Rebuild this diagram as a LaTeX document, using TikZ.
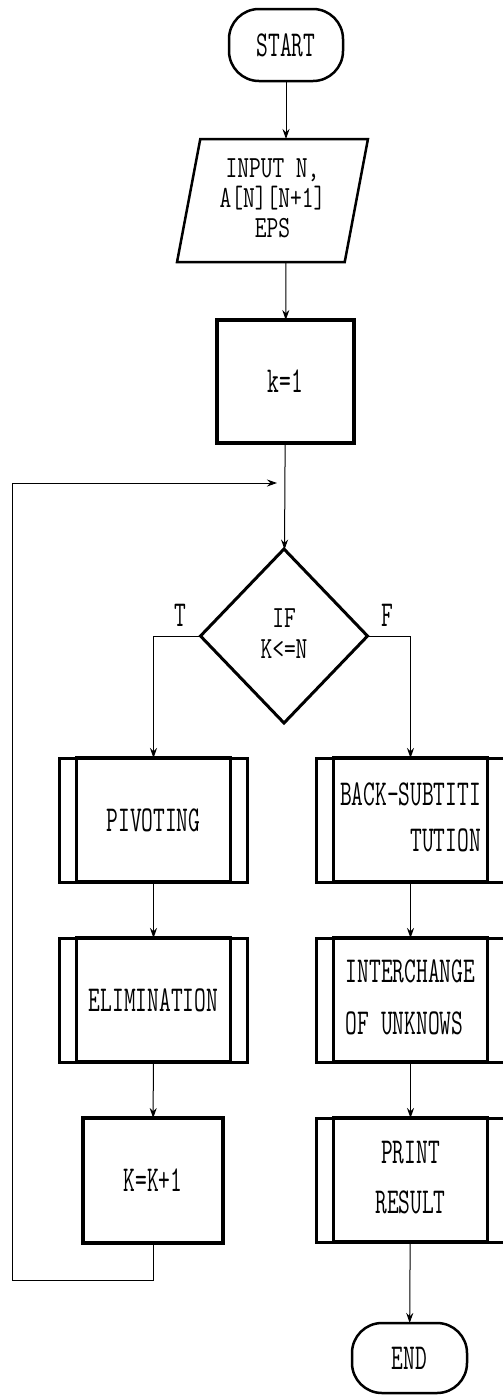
\documentclass[tikz,border=0pt]{standalone}
\usepackage{graphicx}
\usepackage{fontspec}
\usetikzlibrary{shapes.geometric,arrows.meta}
\newcommand{\T}[1]{\scalebox{1}[1.6]{#1}}
\newcommand{\Ts}[1]{\scalebox{1}[1.35]{#1}}
\begin{document}
\begin{tikzpicture}[x=1pt,y=-1pt,
  every node/.style={font=\ttfamily\fontsize{22.8}{27}\selectfont, inner sep=0pt, outer sep=0pt},
  term/.style={draw, line width=2.5pt, rounded corners=30pt, minimum width=114pt, minimum height=72pt},
  proc/.style={draw, line width=3.5pt, minimum width=137pt, minimum height=123pt},
  pproc/.style={draw, line width=3.5pt, minimum width=154pt, minimum height=124pt},
  outer/.style={draw, line width=3pt},
  iobox/.style={draw, line width=2.5pt, trapezium, trapezium left angle=80, trapezium right angle=100,
    trapezium stretches=true, minimum width=191pt, minimum height=123pt},
  decision/.style={draw, line width=3pt, diamond, minimum width=167pt, minimum height=174pt},
  conn/.style={line width=1pt},
  arr/.style={conn, -{Stealth[length=10pt,width=7pt]}}
]
\useasboundingbox (0,0) rectangle (503,1395);

% nodes
\node[term] (start) at (286,45) {\T{START}};
\node[iobox] (inp) at (272.5,200.5) {\Ts{\begin{tabular}{@{}c@{}}INPUT N,\\[-4.8pt]A[N][N+1]\\[-4.8pt]EPS\end{tabular}}};
\node[proc] (k1) at (285.5,381.5) {\T{k=1}};
\node[decision] (dec) at (284,636) {\Ts{\begin{tabular}{@{}c@{}}IF\\[-4pt]K<=N\end{tabular}}};
\node (tl) at (180,615) {\T{T}};
\node (fl) at (387,615) {\T{F}};

\node[pproc] (piv) at (153.5,820) {\T{PIVOTING}};
\node[pproc] (elim) at (153.5,1000) {\T{ELIMINATION}};
\node[proc, minimum width=140pt, minimum height=125pt] (kk) at (153,1180.5) {\T{K=K+1}};

\node[pproc] (back) at (410.5,820) {\T{\begin{tabular}{@{}l@{}}BACK-SUBTITI\\[1.75pt]\hfill TUTION\end{tabular}}};
\node[pproc] (inter) at (410.5,1000) {\T{\begin{tabular}{@{}l@{}}INTERCHANGE\\[5.5pt]OF UNKNOWS\end{tabular}}};
\node[pproc] (print) at (410.5,1180) {\T{\begin{tabular}{@{}c@{}}PRINT\\[4.25pt]RESULT\end{tabular}}};
\node[term, minimum width=115pt, minimum height=70pt] (end) at (409.5,1358) {\T{END}};

% outer bars of predefined-process boxes
\foreach \n in {piv,elim,back,inter,print}
  \draw[outer] ([xshift=-17pt]\n.north west) rectangle ([xshift=17pt]\n.south east);

% connectors
\draw[arr] (start) -- (start |- inp.north);
\draw[arr] (start |- inp.south) -- (k1);
\draw[arr] (k1) -- (dec);
\draw[arr] (dec.west) -| (piv.north);
\draw[arr] (dec.east) -| (back.north);
\draw[arr] (piv) -- (elim);
\draw[arr] (elim) -- (kk);
\draw[arr] (back) -- (inter);
\draw[arr] (inter) -- (print);
\draw[arr] (print) -- (end);

\coordinate (lb) at (12,1280);
\coordinate (lt) at (12,483);
\coordinate (jn) at (277,483);
\draw[arr] (kk.south) |- (lb) -- (lt) -- (jn);
\end{tikzpicture}
\end{document}
